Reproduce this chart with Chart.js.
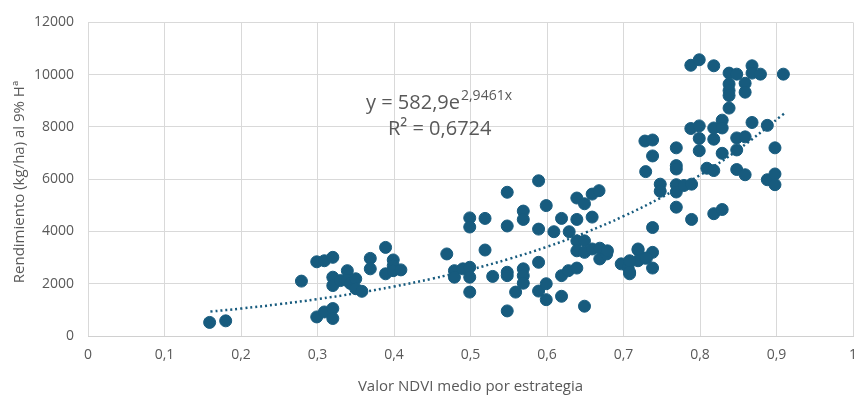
<!DOCTYPE html>
<html>
<head>
<meta charset="utf-8">
<script src="https://cdn.jsdelivr.net/npm/chart.js@4/dist/chart.umd.min.js"></script>
<style>
    html, body { margin: 0; padding: 0; background: #fff; overflow: hidden; }
    #wrap { width: 860px; height: 396px; }
</style>
</head>
<body>
<div id="wrap"><canvas id="ndviChart"></canvas></div>
<script>
// NDVI vs yield scatter, Excel-style with exponential trendline

const ndvi = [
    0.159, 0.180, 0.279, 0.299, 0.309, 0.320, 0.320, 0.320, 0.330, 0.339, 0.339, 0.343,
    0.350, 0.350, 0.358, 0.369, 0.369, 0.389, 0.399, 0.399, 0.389, 0.399, 0.409,
    0.299, 0.309, 0.320, 0.320,
    0.469, 0.479, 0.479, 0.490, 0.499, 0.499, 0.499, 0.499, 0.499, 0.519, 0.519, 0.529,
    0.548, 0.548, 0.548, 0.548, 0.548, 0.559, 0.569, 0.569, 0.569, 0.569, 0.569,
    0.589, 0.589, 0.589, 0.589, 0.599, 0.599, 0.599, 0.609, 0.619, 0.619, 0.628, 0.639,
    0.619, 0.629, 0.639, 0.639, 0.639, 0.649, 0.639, 0.649, 0.659, 0.669, 0.669, 0.678,
    0.679, 0.649, 0.649, 0.659, 0.668, 0.659,
    0.697, 0.706, 0.708, 0.719, 0.719, 0.708, 0.719, 0.728, 0.738, 0.708, 0.730, 0.738,
    0.788, 0.799, 0.818, 0.838, 0.848, 0.838, 0.838, 0.838, 0.838, 0.859, 0.859, 0.868,
    0.868, 0.879, 0.909,
    0.788, 0.799, 0.799, 0.799, 0.818, 0.829, 0.829, 0.818, 0.829, 0.868, 0.888, 0.848,
    0.859, 0.848, 0.898, 0.728, 0.738, 0.738, 0.769, 0.769, 0.769, 0.809, 0.818, 0.848,
    0.859, 0.888, 0.898, 0.898, 0.729, 0.748, 0.748, 0.769, 0.769, 0.779, 0.789, 0.769,
    0.789, 0.818, 0.829, 0.738
];

const rendimiento = [
    520, 580, 2100, 2840, 2880, 3010, 2250, 1930, 2120, 2500, 2120, 2010,
    2190, 1810, 1710, 2970, 2570, 3390, 2910, 2690, 2380, 2500, 2530,
    730, 920, 1050, 670,
    3140, 2500, 2250, 2570, 2630, 2250, 1680, 4520, 4170, 4500, 3290, 2280,
    5500, 4210, 2440, 2310, 960, 1680, 4780, 4460, 2570, 2310, 2020,
    5940, 4090, 2820, 1720, 2000, 1390, 4990, 3990, 4500, 2310, 2500, 2600,
    1520, 3990, 5280, 4460, 3640, 3640, 3260, 3200, 3330, 3360, 2950, 3140,
    3260, 5060, 1140, 5430, 5560, 4550,
    2760, 2630, 2380, 2880, 3290, 2880, 3330, 2980, 3200, 2440, 2980, 2600,
    10360, 10570, 10340, 10060, 10020, 9640, 9390, 9200, 8720, 9670, 9330, 10340,
    10060, 10020, 10020,
    7940, 8040, 7560, 7090, 7960, 8260, 7960, 7530, 6990, 8170, 8060, 7580,
    7620, 7120, 7200, 7460, 7500, 6890, 7200, 6520, 6390, 6420, 6330, 6370,
    6170, 5980, 6200, 5790, 6290, 5810, 5540, 5790, 5510, 5760, 5810, 4930,
    4460, 4680, 4840, 4150
];

// Excel trendline as printed on the chart: y = 582,9 e^(2,9461x)
const trendA = 582.9;
const trendB = 2.9461;
const trendX = [0.16, 0.2, 0.25, 0.3, 0.35, 0.4, 0.45, 0.5, 0.55, 0.6, 0.65, 0.7, 0.75, 0.8, 0.85, 0.91];

const xTicks = [0, 0.1, 0.2, 0.3, 0.4, 0.5, 0.6, 0.7, 0.8, 0.9, 1];
const yTicks = [0, 2000, 4000, 6000, 8000, 10000, 12000];

const dotColor = '#175b7e';
const textGrey = '#595959';
const fontFam = "'Open Sans', 'Liberation Sans', sans-serif";

const scatterData = ndvi.map((x, i) => ({ x: x, y: rendimiento[i] }));
const trendData = trendX.map(x => ({ x: x, y: trendA * Math.exp(trendB * x) }));

// equation label + rotated y title drawn by hand
const extraText = {
    id: 'extraText',
    afterDraw(chart) {
        const ctx = chart.ctx;
        ctx.save();
        ctx.fillStyle = textGrey;
        ctx.textBaseline = 'alphabetic';
        ctx.textAlign = 'left';
        ctx.font = '20px ' + fontFam;
        const main = 'y = 582,9e';
        ctx.fillText(main, 366, 109);
        const w = ctx.measureText(main).width;
        ctx.font = '14px ' + fontFam;
        ctx.fillText('2,9461x', 366 + w + 1, 100);
        ctx.font = '20px ' + fontFam;
        ctx.fillText('R² = 0,6724', 388, 135);

        // y title
        ctx.translate(20, 182);
        ctx.rotate(-Math.PI / 2);
        ctx.textAlign = 'center';
        ctx.textBaseline = 'middle';
        ctx.font = '15px ' + fontFam;
        ctx.fillText('Rendimiento (kg/ha) al 9% Hª', 0, 0);
        ctx.restore();
    }
};

const ctx = document.getElementById('ndviChart').getContext('2d');
new Chart(ctx, {
    type: 'scatter',
    data: {
        datasets: [
            {
                label: 'trend',
                type: 'line',
                data: trendData,
                borderColor: dotColor,
                borderWidth: 2.5,
                borderDash: [2, 3],
                pointRadius: 0,
                tension: 0.4,
                fill: false,
                order: 2
            },
            {
                label: 'datos',
                data: scatterData,
                backgroundColor: dotColor,
                borderColor: dotColor,
                pointRadius: 6,
                pointHoverRadius: 6,
                order: 1
            }
        ]
    },
    options: {
        responsive: true,
        maintainAspectRatio: false,
        animation: false,
        layout: { padding: { top: 19, right: 0, left: 0, bottom: 0 } },
        plugins: {
            legend: { display: false },
            tooltip: { enabled: false }
        },
        scales: {
            x: {
                type: 'linear',
                min: 0,
                max: 1,
                afterBuildTicks: (s) => { s.ticks = xTicks.map(v => ({ value: v })); },
                afterFit: (s) => { s.paddingLeft = 0; s.paddingRight = 0; s.height = 60; },
                grid: { color: '#d9d9d9', lineWidth: 1, drawTicks: false },
                border: { color: '#d0d0d0' },
                ticks: {
                    color: textGrey,
                    padding: 11,
                    font: { family: fontFam, size: 14 },
                    maxRotation: 0,
                    callback: (v) => String(v).replace('.', ',')
                },
                title: {
                    display: true,
                    text: 'Valor NDVI medio por estrategia',
                    color: textGrey,
                    font: { family: fontFam, size: 15 },
                    padding: { top: 6, bottom: 0 }
                }
            },
            y: {
                min: 0,
                max: 12000,
                afterBuildTicks: (s) => { s.ticks = yTicks.map(v => ({ value: v })); },
                afterFit: (s) => { s.width = 88; },
                grid: { color: '#d9d9d9', lineWidth: 1, drawTicks: false },
                border: { display: false },
                ticks: {
                    color: textGrey,
                    padding: 14,
                    font: { family: fontFam, size: 14 },
                    callback: (v) => String(v)
                },
                title: { display: false }
            }
        }
    },
    plugins: [extraText]
});
</script>
</body>
</html>
